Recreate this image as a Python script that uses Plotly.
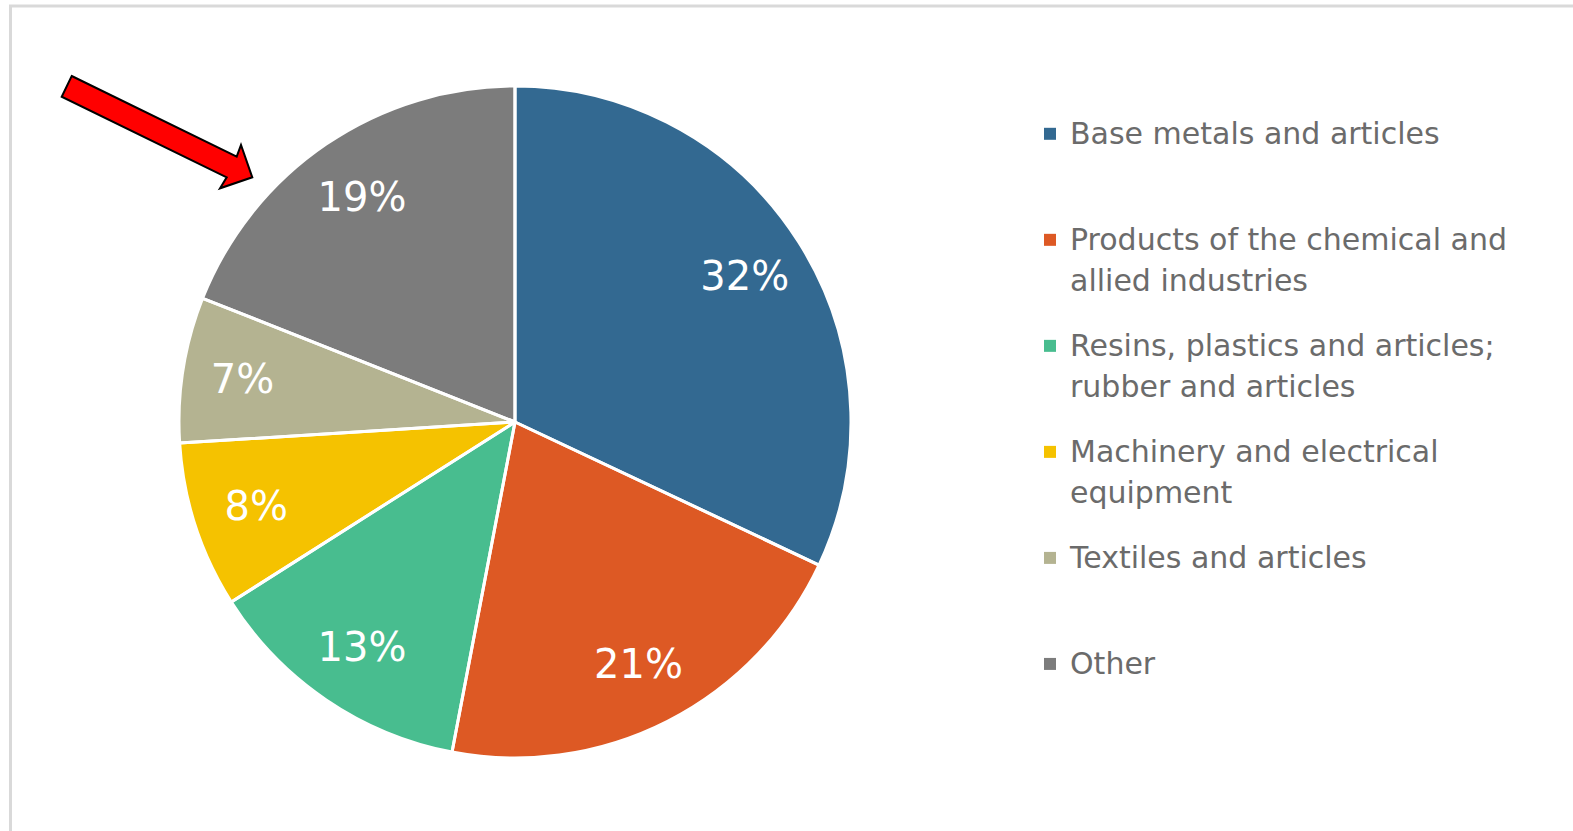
import plotly.graph_objects as go

# ---- data ----
categories = [
    "Base metals and articles",
    "Products of the chemical and|allied industries",
    "Resins, plastics and articles;|rubber and articles",
    "Machinery and electrical|equipment",
    "Textiles and articles",
    "Other",
]
shares = [32, 21, 13, 8, 7, 19]
colors = ["#336991", "#DD5924", "#48BD8F", "#F5C200", "#B4B391", "#7C7C7C"]

W, H = 1573, 831
LEGEND_GLYPH = 30      # visible legend text size (px)
LEGEND_BASE = 15.85    # base size driving legend line pitch


def legend_label(name):
    parts = name.split("|")
    out = []
    for p in parts:
        out.append(f'<span style="font-size:{LEGEND_GLYPH}px;baseline-shift:-4px">{p}</span>')
        out.append("&nbsp;")
    while len(out) < 5:
        out.append("&nbsp;")
    return "<br>".join(out)


labels = [legend_label(c) for c in categories]

# pie geometry (pixels)
cx, cy, r = 515, 422, 336
dom = dict(x=[(cx - r) / W, (cx + r) / W], y=[(H - cy - r) / H, (H - cy + r) / H])
clear = ["rgba(0,0,0,0)"] * len(shares)

common = dict(labels=labels, values=shares, sort=False, direction="clockwise",
              rotation=0, domain=dom)

fig = go.Figure()
# coloured slices (own the legend)
fig.add_trace(go.Pie(
    **common,
    marker=dict(colors=colors, line=dict(width=0)),
    textinfo="none",
    hovertemplate="%{value}%<extra></extra>",
))
# white slice separators
fig.add_trace(go.Pie(
    **common,
    marker=dict(colors=clear, line=dict(color="white", width=3)),
    textinfo="none", showlegend=False, hoverinfo="skip",
))
# percentage labels placed in the outer ring
fig.add_trace(go.Pie(
    **common,
    hole=0.62,
    marker=dict(colors=clear, line=dict(width=0)),
    texttemplate="%{value}%",
    textposition="inside",
    insidetextorientation="horizontal",
    textfont=dict(family="DejaVu Sans", size=40, color="white"),
    showlegend=False, hoverinfo="skip",
))


def px(x, y):
    return x / W, 1 - y / H


# red arrow (decoration)
arrow_pts = [(71.7, 76), (236.7, 156.7), (241, 145), (252.3, 177.3),
             (220, 188.3), (226.7, 177.3), (61.7, 96.7)]
path = "M " + " L ".join(f"{px(x, y)[0]:.5f},{px(x, y)[1]:.5f}" for x, y in arrow_pts) + " Z"

fig.update_layout(
    width=W,
    height=H,
    margin=dict(l=0, r=0, t=0, b=0),
    paper_bgcolor="white",
    plot_bgcolor="white",
    showlegend=True,
    legend=dict(
        x=1030 / W,
        y=1 - 117 / H,
        xanchor="left",
        yanchor="top",
        valign="top",
        font=dict(family="DejaVu Sans", size=LEGEND_BASE, color="#6b6b6b"),
        bgcolor="rgba(0,0,0,0)",
        itemclick=False,
        itemdoubleclick=False,
    ),
    shapes=[
        dict(type="rect", xref="paper", yref="paper",
             x0=10.5 / W, y0=-0.02, x1=1.02, y1=1 - 6 / H,
             line=dict(color="#d9d9d9", width=3), fillcolor="rgba(0,0,0,0)"),
        dict(type="path", xref="paper", yref="paper", path=path,
             fillcolor="#FF0000", line=dict(color="black", width=2)),
    ],
)

fig.write_html("out.html", config={"displayModeBar": False},
               post_script="document.body.style.margin='0';")
